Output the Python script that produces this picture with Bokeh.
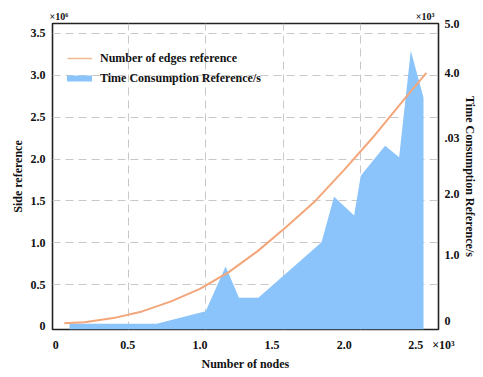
from bokeh.plotting import figure
from bokeh.models import (Range1d, LinearAxis, FixedTicker, Legend, LegendItem,
                          Title, ColumnDataSource)
from bokeh.embed import file_html
from bokeh.resources import INLINE

# ---- data ----
# Number of edges reference (x: nodes x10^3, y: edges x10^6)
edge_nodes = [0.06, 0.2, 0.4, 0.6, 0.8, 1.0, 1.2, 1.4, 1.6, 1.8, 2.0, 2.2, 2.4, 2.57]
edge_counts = [0.04, 0.05, 0.10, 0.18, 0.30, 0.45, 0.65, 0.90, 1.19, 1.50, 1.87, 2.26, 2.68, 3.03]

# Time consumption reference (x: nodes x10^3, y: seconds x10^3)
time_nodes = [0.096, 0.700, 1.040, 1.178, 1.271, 1.405, 1.843, 1.930, 2.069, 2.115,
              2.284, 2.381, 2.462, 2.550]
time_values = [0.093, 0.093, 0.299, 1.028, 0.517, 0.517, 1.425, 2.168, 1.861, 2.514,
               3.004, 2.813, 4.554, 3.792]

x_tick_labels = ["0", "0.5", "1.0", "1.5", "2.0", "2.5\u00a0\u00a0\u00a0×10³"]
left_ticks = [0, 0.5, 1.0, 1.5, 2.0, 2.5, 3.0, 3.5]
left_tick_labels = ["0", "0.5", "1.0", "1.5", "2.0", "2.5", "3.0", "3.5"]
right_tick_labels = ["0", "1.0", "2.0", ".03", "4.0", "5.0"]
left_multiplier = "×10⁶"
right_multiplier = "×10³"

# ---- styling ----
FONT = "Liberation Serif"
ORANGE = "#f3a679"
BLUE = "#8ac4fb"
GRID = "#c8c8c8"
MULT_GAP = "\u00a0" * 139   # spacing between the two top multipliers

# label anchor positions (last one carries the x multiplier, so it is re-centred)
x_tick_pos = [0, 0.5, 1.0, 1.5, 2.0, 2.605]
# positions of the (irregularly spaced) right-axis labels, in right-axis units
right_tick_pos = [0.147, 1.224, 2.220, 3.134, 4.195, 5.0]
# vertical grid positions (offset from tick labels in the reference)
xgrid_pos = [0.505, 1.040, 1.581, 2.115]

p = figure(width=483, height=377,
           x_range=Range1d(-0.022, 2.654), y_range=Range1d(-0.036, 3.619),
           output_backend="svg", toolbar_location=None, title=None,
           min_border_left=52, min_border_right=45,
           min_border_top=23, min_border_bottom=48)
p.extra_y_ranges = {"time": Range1d(0, 5.0)}

p.background_fill_color = "white"
p.border_fill_color = "white"
p.outline_line_color = "#222222"
p.outline_line_width = 1.6

# area (time consumption)
src_t = ColumnDataSource(dict(x=time_nodes, y=time_values))
p.varea(x="x", y1=0, y2="y", source=src_t, fill_color=BLUE, fill_alpha=1.0,
        y_range_name="time")

# line (edges)
src_e = ColumnDataSource(dict(x=edge_nodes, y=edge_counts))
p.line(x="x", y="y", source=src_e, line_color=ORANGE, line_width=2)

# grids
p.xgrid.ticker = FixedTicker(ticks=xgrid_pos)
p.ygrid.ticker = FixedTicker(ticks=left_ticks[1:])
for g in (p.xgrid, p.ygrid):
    g.grid_line_color = GRID
    g.grid_line_dash = "8 5"
    g.grid_line_width = 1

def style_axis(ax, standoff, label_standoff):
    ax.axis_line_color = None
    ax.major_tick_line_color = None
    ax.minor_tick_line_color = None
    ax.major_tick_out = 0
    ax.major_tick_in = 0
    ax.minor_tick_out = 0
    ax.minor_tick_in = 0
    ax.major_label_text_font = FONT
    ax.major_label_text_font_style = "bold"
    ax.major_label_text_font_size = "12px"
    ax.major_label_text_color = "#111111"
    ax.major_label_standoff = standoff
    ax.axis_label_text_font = FONT
    ax.axis_label_text_font_style = "bold"
    ax.axis_label_text_font_size = "12px"
    ax.axis_label_text_color = "#111111"
    ax.axis_label_standoff = label_standoff

xa = p.xaxis[0]
xa.ticker = FixedTicker(ticks=x_tick_pos)
xa.major_label_overrides = {t: l for t, l in zip(x_tick_pos, x_tick_labels)}
xa.axis_label = "Number of nodes"
style_axis(xa, 8, 2)

ya = p.yaxis[0]
ya.ticker = FixedTicker(ticks=left_ticks)
ya.major_label_overrides = {t: l for t, l in zip(left_ticks, left_tick_labels)}
ya.axis_label = "Side reference"
style_axis(ya, 7, 3)

ra = LinearAxis(y_range_name="time", axis_label="Time Consumption Reference/s")
ra.ticker = FixedTicker(ticks=right_tick_pos)
ra.major_label_overrides = {t: l for t, l in zip(right_tick_pos, right_tick_labels)}
style_axis(ra, 6, 0)
p.add_layout(ra, "right")

# legend (custom glyphs: one-point lines draw nothing in the plot)
leg_e = p.line(x=edge_nodes[:1], y=edge_counts[:1], line_color=ORANGE,
               line_width=1.5, line_alpha=0.8)
leg_t = p.line(x=time_nodes[:1], y=time_values[:1], line_color=BLUE, line_width=6,
               line_cap="round", y_range_name="time")
legend = Legend(items=[LegendItem(label="Number of edges reference", renderers=[leg_e]),
                       LegendItem(label="Time Consumption Reference/s", renderers=[leg_t])],
                location=(15, 241))
legend.label_text_font = FONT
legend.label_text_font_style = "bold"
legend.label_text_font_size = "12px"
legend.label_text_color = "#111111"
legend.glyph_width = 25
legend.glyph_height = 20
legend.label_height = 20
legend.label_standoff = 8
legend.spacing = 0
legend.padding = 0
legend.margin = 0
legend.border_line_color = None
legend.background_fill_alpha = 0
p.add_layout(legend)

# axis multipliers above the frame (one title row)
p.add_layout(Title(text=left_multiplier + MULT_GAP + right_multiplier,
                   align="left", offset=-3, standoff=3,
                   text_font=FONT, text_font_style="bold", text_font_size="10px",
                   text_color="#111111"), "above")

open("out.html", "w").write(file_html(p, INLINE))
